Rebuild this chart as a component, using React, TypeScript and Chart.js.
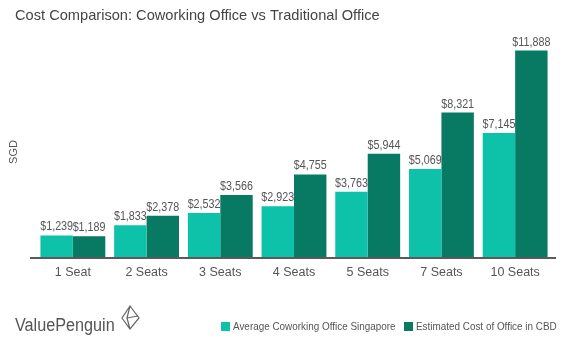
import React, { useEffect, useRef } from "react";
import { Chart, registerables } from "chart.js";

Chart.register(...registerables);

const categories = ["1 Seat", "2 Seats", "3 Seats", "4 Seats", "5 Seats", "7 Seats", "10 Seats"];
const coworking = [1239, 1833, 2532, 2923, 3763, 5069, 7145];
const traditional = [1189, 2378, 3566, 4755, 5944, 8321, 11888];
const seriesNames = ["Average Coworking Office Singapore", "Estimated Cost of Office in CBD"];
const titleText = "Cost Comparison: Coworking Office vs Traditional Office";
const yAxisLabel = "SGD";
const brandText = "ValuePenguin";

const LIGHT = "#0dc2a8";
const DARK = "#087a64";
const TEXT = "#555555";
const FONT = "'Liberation Sans', Arial, sans-serif";

const fmt = (v: number) => "$" + v.toLocaleString("en-US");

function scaledText(ctx: CanvasRenderingContext2D, text: string, x: number, y: number, sx: number) {
  ctx.save();
  ctx.translate(x, y);
  ctx.scale(sx, 1);
  ctx.fillText(text, 0, 0);
  ctx.restore();
}

const decorPlugin = {
  id: "decor",
  beforeDatasetsDraw(chart: any) {
    const ctx = chart.ctx as CanvasRenderingContext2D;
    const area = chart.chartArea;
    ctx.save();
    ctx.strokeStyle = "#5a5a5a";
    ctx.lineWidth = 2;
    ctx.beginPath();
    ctx.moveTo(30, area.bottom + 1);
    ctx.lineTo(556, area.bottom + 1);
    ctx.stroke();
    ctx.restore();
  },
  afterDatasetsDraw(chart: any) {
    const ctx = chart.ctx as CanvasRenderingContext2D;
    ctx.save();
    ctx.font = `12.5px ${FONT}`;
    ctx.fillStyle = TEXT;
    ctx.textAlign = "center";
    ctx.textBaseline = "alphabetic";
    chart.data.datasets.forEach((ds: any, di: number) => {
      const meta = chart.getDatasetMeta(di);
      meta.data.forEach((bar: any, i: number) => {
        scaledText(ctx, fmt(ds.data[i]), bar.x, bar.y - 5, 0.86);
      });
    });
    ctx.restore();
  },
  afterDraw(chart: any) {
    const ctx = chart.ctx as CanvasRenderingContext2D;
    ctx.save();
    // title
    ctx.fillStyle = "#444444";
    ctx.font = `15px ${FONT}`;
    ctx.textAlign = "left";
    ctx.textBaseline = "middle";
    scaledText(ctx, titleText, 15, 16, 0.975);
    // y label
    ctx.save();
    ctx.translate(14, 152);
    ctx.rotate(-Math.PI / 2);
    ctx.textAlign = "center";
    ctx.font = `11px ${FONT}`;
    ctx.fillStyle = TEXT;
    ctx.fillText(yAxisLabel, 0, 0);
    ctx.restore();
    // brand
    ctx.font = `18px ${FONT}`;
    ctx.fillStyle = "#555555";
    ctx.textAlign = "left";
    scaledText(ctx, brandText, 15, 326, 0.9);
    // brand icon
    ctx.strokeStyle = "#666666";
    ctx.lineWidth = 1.2;
    ctx.beginPath();
    ctx.moveTo(130, 306);
    ctx.lineTo(139, 318);
    ctx.lineTo(130, 329);
    ctx.lineTo(122, 318);
    ctx.closePath();
    ctx.moveTo(130, 306);
    ctx.lineTo(127, 318);
    ctx.lineTo(130, 329);
    ctx.moveTo(127, 318);
    ctx.lineTo(138, 316);
    ctx.stroke();
    // legend
    const items = chart.data.datasets.map((ds: any) => ({ label: ds.label, color: ds.backgroundColor }));
    const xs = [221, 404];
    ctx.font = `11px ${FONT}`;
    items.forEach((it: any, i: number) => {
      ctx.fillStyle = it.color;
      ctx.fillRect(xs[i], 322, 9, 9);
      ctx.fillStyle = TEXT;
      scaledText(ctx, it.label, xs[i] + 12, 327, 0.9);
    });
    ctx.restore();
  },
};

export default function App() {
  const ref = useRef<HTMLCanvasElement>(null);
  useEffect(() => {
    document.body.style.margin = "0";
    const chart = new Chart(ref.current!, {
      type: "bar",
      data: {
        labels: categories,
        datasets: [
          { label: seriesNames[0], data: coworking, backgroundColor: LIGHT },
          { label: seriesNames[1], data: traditional, backgroundColor: DARK },
        ],
      },
      options: {
        responsive: false,
        animation: false,
        layout: { padding: { left: 36, right: 28, top: 40, bottom: 72 } },
        plugins: { legend: { display: false }, title: { display: false }, tooltip: { enabled: false } },
        datasets: { bar: { categoryPercentage: 0.88, barPercentage: 1 } },
        scales: {
          x: {
            grid: { display: false, drawTicks: false },
            border: { display: false },
            ticks: { color: TEXT, font: { family: FONT, size: 12.5 }, padding: 8 },
          },
          y: { display: false, min: 0, max: 12500 },
        },
      },
      plugins: [decorPlugin],
    });
    return () => chart.destroy();
  }, []);
  return <canvas ref={ref} width={580} height={360} style={{ display: "block" }} />;
}
